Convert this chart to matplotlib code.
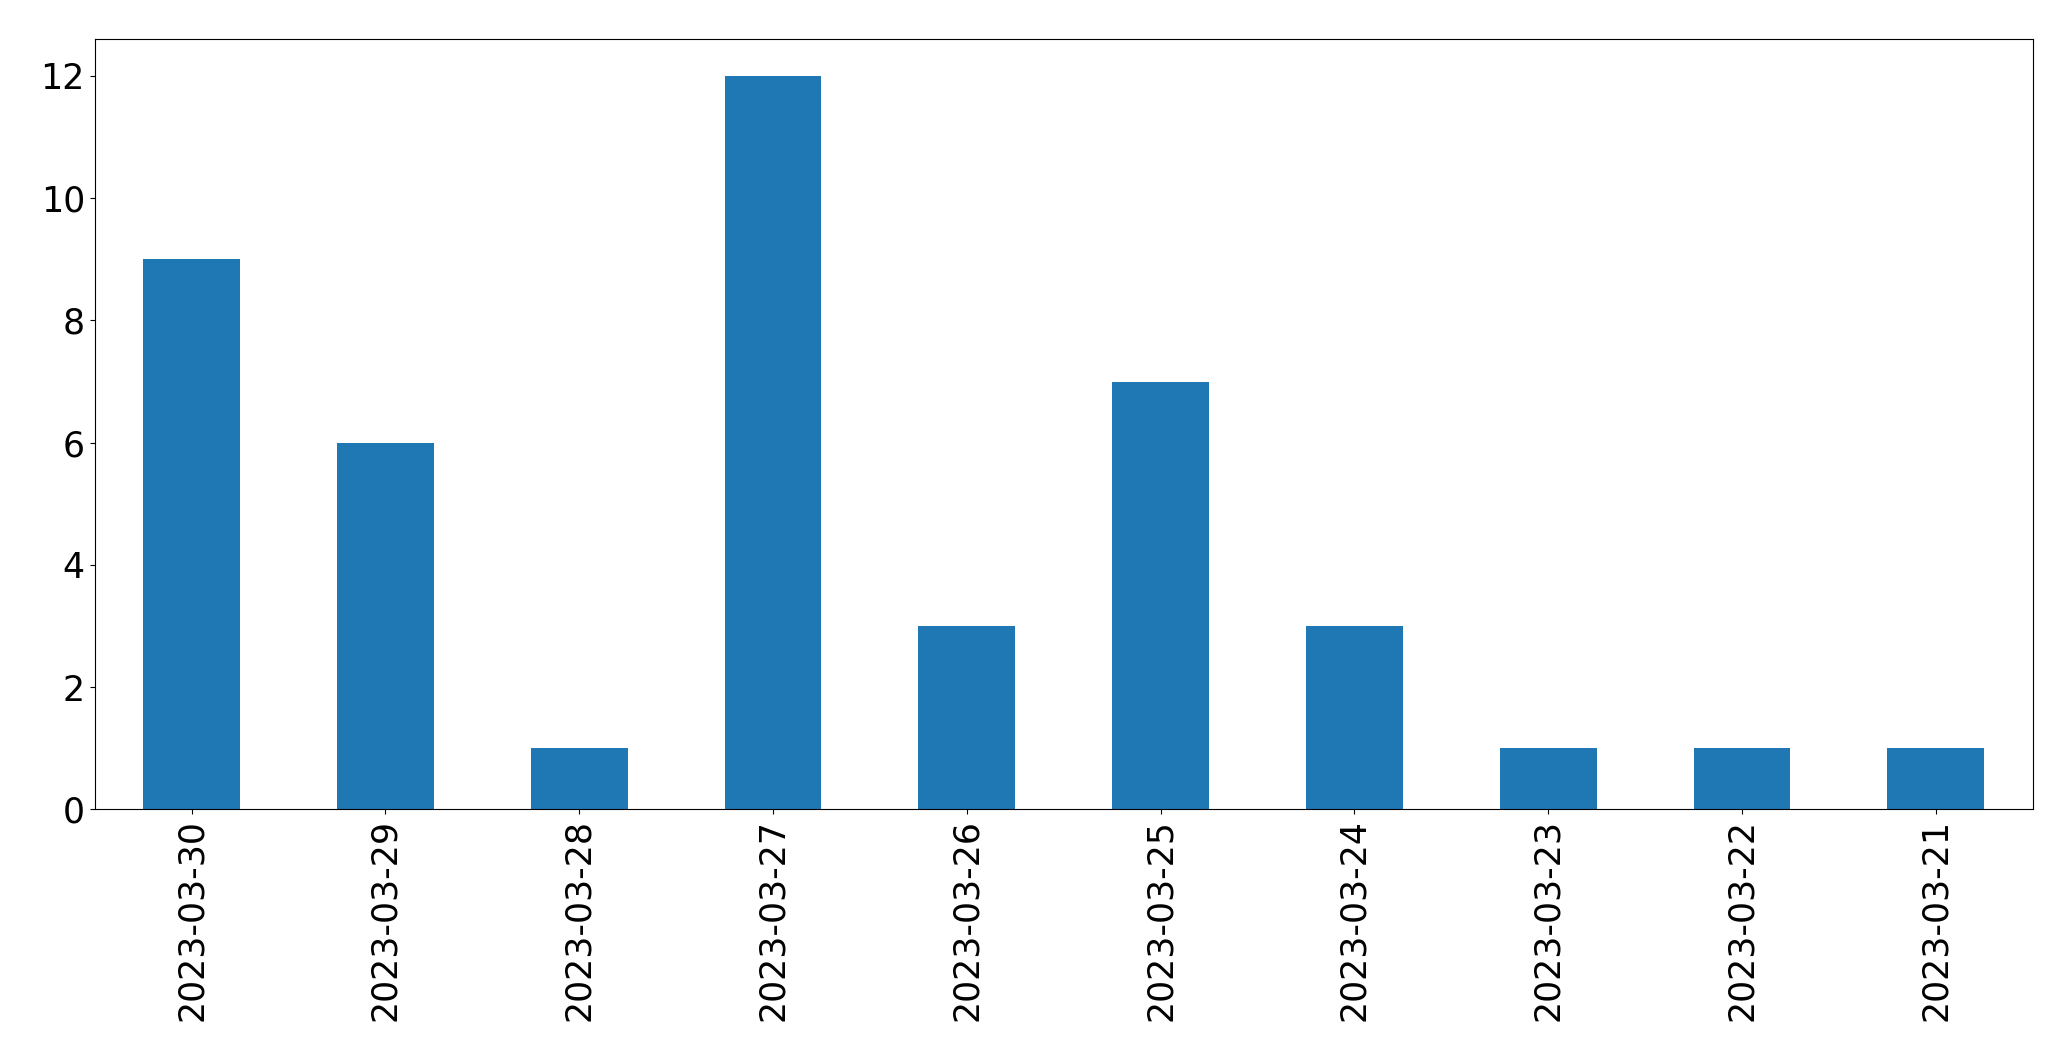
import matplotlib
matplotlib.use("Agg")
import matplotlib.pyplot as plt
import pandas as pd

dates = ["2023-03-30", "2023-03-29", "2023-03-28", "2023-03-27", "2023-03-26",
         "2023-03-25", "2023-03-24", "2023-03-23", "2023-03-22", "2023-03-21"]
counts = [9, 6, 1, 12, 3, 7, 3, 1, 1, 1]

s = pd.Series(counts, index=dates)

fig = plt.figure(figsize=(20.71, 10.61), dpi=100)
ax = fig.add_axes([0.0457, 0.2372, 0.9358, 0.7258])
s.plot(kind="bar", ax=ax, color="#1f77b4")
ax.tick_params(labelsize=25)
plt.setp(ax.get_xticklabels(), rotation=90)

fig.savefig("out.png", dpi=100)
